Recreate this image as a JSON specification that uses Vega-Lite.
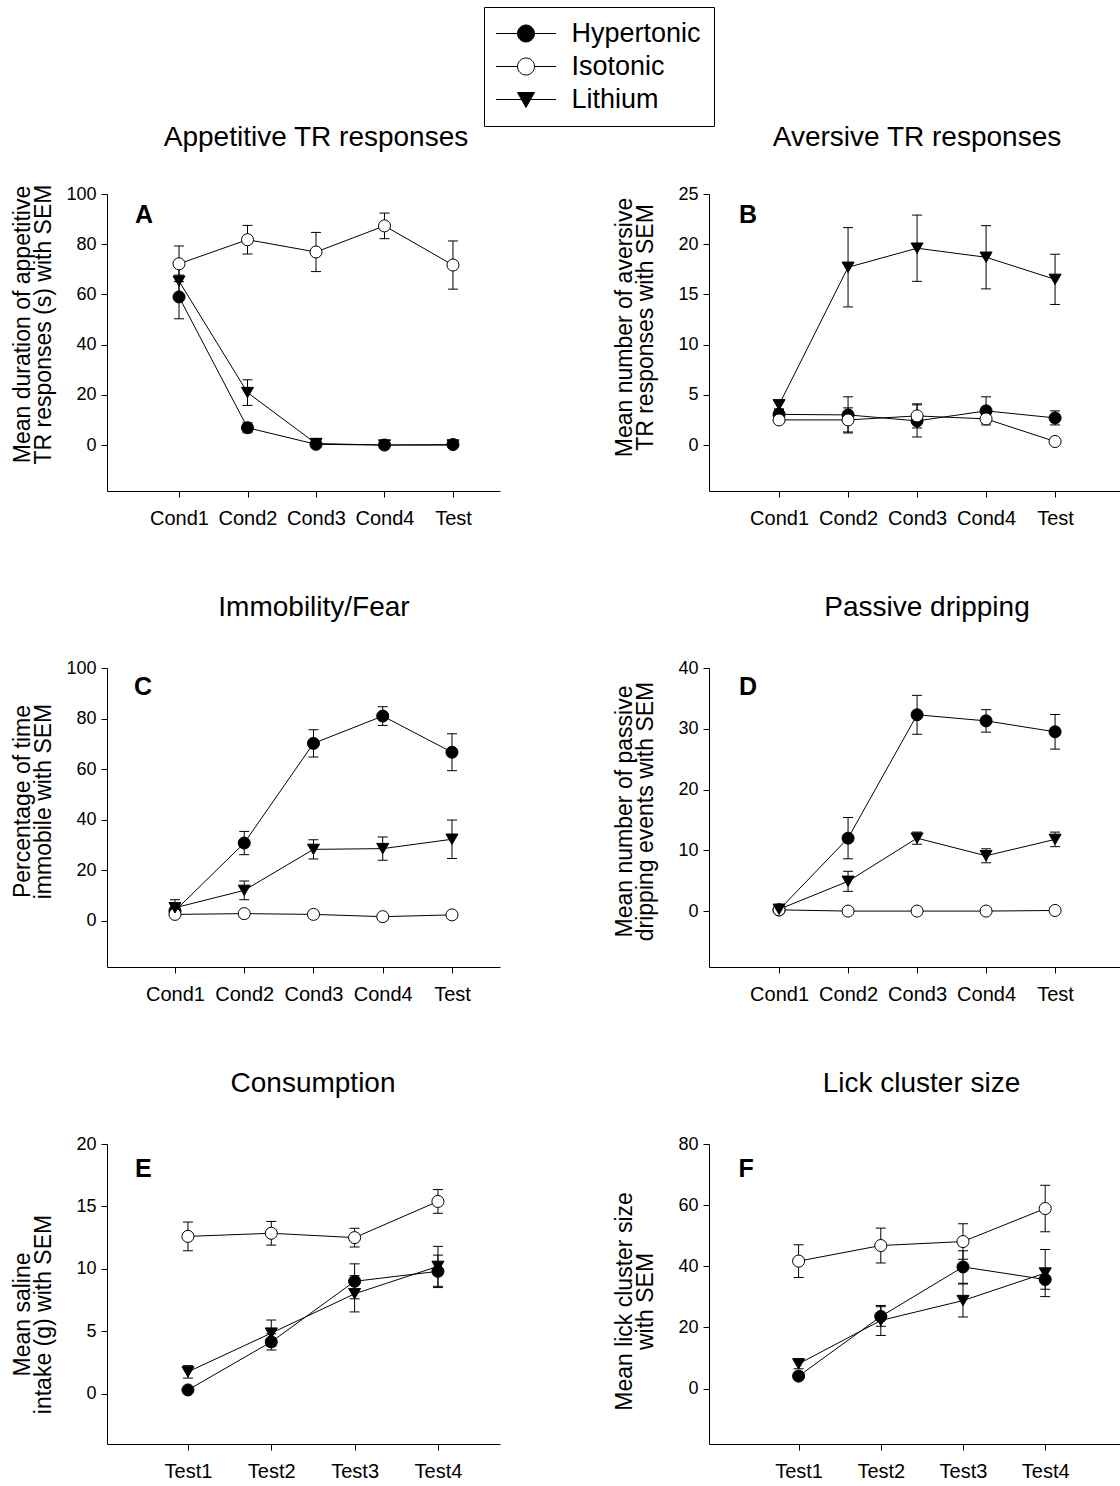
{
  "$schema": "https://vega.github.io/schema/vega-lite/v6.json",
  "padding": {"left": 10, "top": 6, "right": 0, "bottom": 0},
  "background": "white",
  "bounds": "flush",
  "columns": 2,
  "spacing": {"row": 177, "column": 209},
  "config": {
    "font": "Liberation Sans",
    "view": {"stroke": null},
    "axis": {"domainColor": "black", "tickColor": "black", "labelColor": "black", "titleColor": "black", "grid": false, "tickSize": 6, "domainWidth": 1, "tickWidth": 1, "labelFont": "Liberation Sans", "titleFont": "Liberation Sans", "titleFontWeight": "normal", "labelOverlap": false},
    "axisX": {"labelFontSize": 20, "labelPadding": 11, "labelAngle": 0},
    "axisY": {"labelFontSize": 18, "labelPadding": 5, "titleFontSize": 23, "titleLineHeight": 21, "titleBaseline": "alphabetic", "titleX": -78},
    "title": {"fontSize": 28, "fontWeight": "normal", "color": "black", "anchor": "middle", "frame": "group", "baseline": "alphabetic", "font": "Liberation Sans"}
  },
  "datasets": {
    "d": [
      {"panel": "A", "session": "Cond1", "group": "Hypertonic", "mean": 59.0, "sem": 8.7},
      {"panel": "A", "session": "Cond2", "group": "Hypertonic", "mean": 6.9, "sem": 2.0},
      {"panel": "A", "session": "Cond3", "group": "Hypertonic", "mean": 0.3, "sem": 0.4},
      {"panel": "A", "session": "Cond4", "group": "Hypertonic", "mean": 0.0, "sem": 0.3},
      {"panel": "A", "session": "Test", "group": "Hypertonic", "mean": 0.2, "sem": 0.4},
      {"panel": "A", "session": "Cond1", "group": "Isotonic", "mean": 72.2, "sem": 7.1},
      {"panel": "A", "session": "Cond2", "group": "Isotonic", "mean": 81.8, "sem": 5.7},
      {"panel": "A", "session": "Cond3", "group": "Isotonic", "mean": 76.9, "sem": 7.8},
      {"panel": "A", "session": "Cond4", "group": "Isotonic", "mean": 87.3, "sem": 5.1},
      {"panel": "A", "session": "Test", "group": "Isotonic", "mean": 71.7, "sem": 9.6},
      {"panel": "A", "session": "Cond1", "group": "Lithium", "mean": 65.3, "sem": 5.6},
      {"panel": "A", "session": "Cond2", "group": "Lithium", "mean": 20.9, "sem": 5.1},
      {"panel": "A", "session": "Cond3", "group": "Lithium", "mean": 0.6, "sem": 0.5},
      {"panel": "A", "session": "Cond4", "group": "Lithium", "mean": 0.0, "sem": 0.3},
      {"panel": "A", "session": "Test", "group": "Lithium", "mean": 0.0, "sem": 0.3},

      {"panel": "B", "session": "Cond1", "group": "Hypertonic", "mean": 3.05, "sem": 0.5},
      {"panel": "B", "session": "Cond2", "group": "Hypertonic", "mean": 3.0, "sem": 1.8},
      {"panel": "B", "session": "Cond3", "group": "Hypertonic", "mean": 2.4, "sem": 1.6},
      {"panel": "B", "session": "Cond4", "group": "Hypertonic", "mean": 3.4, "sem": 1.4},
      {"panel": "B", "session": "Test", "group": "Hypertonic", "mean": 2.7, "sem": 0.7},
      {"panel": "B", "session": "Cond1", "group": "Isotonic", "mean": 2.5, "sem": 0.3},
      {"panel": "B", "session": "Cond2", "group": "Isotonic", "mean": 2.5, "sem": 1.2},
      {"panel": "B", "session": "Cond3", "group": "Isotonic", "mean": 2.9, "sem": 1.2},
      {"panel": "B", "session": "Cond4", "group": "Isotonic", "mean": 2.6, "sem": 0.4},
      {"panel": "B", "session": "Test", "group": "Isotonic", "mean": 0.35, "sem": 0.2},
      {"panel": "B", "session": "Cond1", "group": "Lithium", "mean": 4.0, "sem": 0.4},
      {"panel": "B", "session": "Cond2", "group": "Lithium", "mean": 17.7, "sem": 3.95},
      {"panel": "B", "session": "Cond3", "group": "Lithium", "mean": 19.6, "sem": 3.3},
      {"panel": "B", "session": "Cond4", "group": "Lithium", "mean": 18.7, "sem": 3.15},
      {"panel": "B", "session": "Test", "group": "Lithium", "mean": 16.5, "sem": 2.5},

      {"panel": "C", "session": "Cond1", "group": "Hypertonic", "mean": 4.0, "sem": 1.0},
      {"panel": "C", "session": "Cond2", "group": "Hypertonic", "mean": 30.8, "sem": 4.6},
      {"panel": "C", "session": "Cond3", "group": "Hypertonic", "mean": 70.2, "sem": 5.4},
      {"panel": "C", "session": "Cond4", "group": "Hypertonic", "mean": 81.0, "sem": 3.7},
      {"panel": "C", "session": "Test", "group": "Hypertonic", "mean": 66.7, "sem": 7.3},
      {"panel": "C", "session": "Cond1", "group": "Isotonic", "mean": 2.6, "sem": 0.5},
      {"panel": "C", "session": "Cond2", "group": "Isotonic", "mean": 2.9, "sem": 0.4},
      {"panel": "C", "session": "Cond3", "group": "Isotonic", "mean": 2.6, "sem": 0.4},
      {"panel": "C", "session": "Cond4", "group": "Isotonic", "mean": 1.7, "sem": 0.4},
      {"panel": "C", "session": "Test", "group": "Isotonic", "mean": 2.4, "sem": 0.4},
      {"panel": "C", "session": "Cond1", "group": "Lithium", "mean": 5.2, "sem": 3.2},
      {"panel": "C", "session": "Cond2", "group": "Lithium", "mean": 12.1, "sem": 3.7},
      {"panel": "C", "session": "Cond3", "group": "Lithium", "mean": 28.3, "sem": 3.8},
      {"panel": "C", "session": "Cond4", "group": "Lithium", "mean": 28.6, "sem": 4.6},
      {"panel": "C", "session": "Test", "group": "Lithium", "mean": 32.3, "sem": 7.6},

      {"panel": "D", "session": "Cond1", "group": "Hypertonic", "mean": 0.2, "sem": 0.2},
      {"panel": "D", "session": "Cond2", "group": "Hypertonic", "mean": 12.0, "sem": 3.4},
      {"panel": "D", "session": "Cond3", "group": "Hypertonic", "mean": 32.3, "sem": 3.2},
      {"panel": "D", "session": "Cond4", "group": "Hypertonic", "mean": 31.3, "sem": 1.85},
      {"panel": "D", "session": "Test", "group": "Hypertonic", "mean": 29.5, "sem": 2.85},
      {"panel": "D", "session": "Cond1", "group": "Isotonic", "mean": 0.2, "sem": 0.1},
      {"panel": "D", "session": "Cond2", "group": "Isotonic", "mean": 0.0, "sem": 0.1},
      {"panel": "D", "session": "Cond3", "group": "Isotonic", "mean": 0.0, "sem": 0.1},
      {"panel": "D", "session": "Cond4", "group": "Isotonic", "mean": 0.0, "sem": 0.1},
      {"panel": "D", "session": "Test", "group": "Isotonic", "mean": 0.1, "sem": 0.1},
      {"panel": "D", "session": "Cond1", "group": "Lithium", "mean": 0.3, "sem": 0.3},
      {"panel": "D", "session": "Cond2", "group": "Lithium", "mean": 4.9, "sem": 1.65},
      {"panel": "D", "session": "Cond3", "group": "Lithium", "mean": 12.0, "sem": 1.0},
      {"panel": "D", "session": "Cond4", "group": "Lithium", "mean": 9.1, "sem": 1.15},
      {"panel": "D", "session": "Test", "group": "Lithium", "mean": 11.8, "sem": 1.2},

      {"panel": "E", "session": "Test1", "group": "Hypertonic", "mean": 0.3, "sem": 0.2},
      {"panel": "E", "session": "Test2", "group": "Hypertonic", "mean": 4.15, "sem": 0.65},
      {"panel": "E", "session": "Test3", "group": "Hypertonic", "mean": 9.0, "sem": 1.4},
      {"panel": "E", "session": "Test4", "group": "Hypertonic", "mean": 9.8, "sem": 1.3},
      {"panel": "E", "session": "Test1", "group": "Isotonic", "mean": 12.6, "sem": 1.15},
      {"panel": "E", "session": "Test2", "group": "Isotonic", "mean": 12.85, "sem": 0.95},
      {"panel": "E", "session": "Test3", "group": "Isotonic", "mean": 12.5, "sem": 0.75},
      {"panel": "E", "session": "Test4", "group": "Isotonic", "mean": 15.4, "sem": 0.95},
      {"panel": "E", "session": "Test1", "group": "Lithium", "mean": 1.75, "sem": 0.5},
      {"panel": "E", "session": "Test2", "group": "Lithium", "mean": 4.85, "sem": 1.05},
      {"panel": "E", "session": "Test3", "group": "Lithium", "mean": 8.0, "sem": 1.45},
      {"panel": "E", "session": "Test4", "group": "Lithium", "mean": 10.2, "sem": 1.6},

      {"panel": "F", "session": "Test1", "group": "Hypertonic", "mean": 4.1, "sem": 1.0},
      {"panel": "F", "session": "Test2", "group": "Hypertonic", "mean": 23.6, "sem": 3.2},
      {"panel": "F", "session": "Test3", "group": "Hypertonic", "mean": 39.8, "sem": 5.3},
      {"panel": "F", "session": "Test4", "group": "Hypertonic", "mean": 35.7, "sem": 3.2},
      {"panel": "F", "session": "Test1", "group": "Isotonic", "mean": 41.7, "sem": 5.35},
      {"panel": "F", "session": "Test2", "group": "Isotonic", "mean": 46.8, "sem": 5.7},
      {"panel": "F", "session": "Test3", "group": "Isotonic", "mean": 48.1, "sem": 5.8},
      {"panel": "F", "session": "Test4", "group": "Isotonic", "mean": 58.9, "sem": 7.6},
      {"panel": "F", "session": "Test1", "group": "Lithium", "mean": 8.1, "sem": 1.6},
      {"panel": "F", "session": "Test2", "group": "Lithium", "mean": 22.3, "sem": 4.9},
      {"panel": "F", "session": "Test3", "group": "Lithium", "mean": 28.8, "sem": 5.4},
      {"panel": "F", "session": "Test4", "group": "Lithium", "mean": 37.8, "sem": 7.7}
    ]
  },
  "concat": [
    {
      "width": 393, "height": 297,
      "title": {"text": "Appetitive TR responses", "dx": 12.5, "offset": -145.5},
      "data": {"name": "d"},
      "transform": [{"filter": {"field": "panel", "equal": "A"}}],
      "encoding": {
        "x": {"field": "session", "type": "nominal", "scale": {"type": "point", "domain": ["Cond1", "Cond2", "Cond3", "Cond4", "Test"], "padding": 0.869, "align": 0.605}, "axis": {"title": null}},
        "y": {"field": "mean", "type": "quantitative", "scale": {"domain": [-18.3, 100], "nice": false, "zero": false}, "axis": {"values": [0, 20, 40, 60, 80, 100], "title": ["Mean duration of appetitive", "TR responses (s) with SEM"], "titleY": 130}}
      },
      "resolve": {"scale": {"shape": "independent", "fill": "independent"}},
      "layer": [
        {"mark": {"type": "errorbar", "ticks": {"size": 10, "color": "black", "opacity": 1}, "rule": {"color": "black", "opacity": 1}, "thickness": 1}, "encoding": {"yError": {"field": "sem"}}},
        {"mark": {"type": "line", "color": "black", "strokeWidth": 1}, "encoding": {"detail": {"field": "group", "type": "nominal"}}},
        {"mark": {"type": "point", "filled": true, "stroke": "black", "strokeWidth": 1, "opacity": 1},
         "encoding": {
           "shape": {"field": "group", "type": "nominal", "scale": {"domain": ["Hypertonic", "Isotonic", "Lithium"], "range": ["circle", "circle", "triangle-down"]}, "legend": null},
           "fill": {"field": "group", "type": "nominal", "scale": {"domain": ["Hypertonic", "Isotonic", "Lithium"], "range": ["black", "white", "black"]}, "legend": null},
           "size": {"field": "group", "type": "nominal", "scale": {"domain": ["Hypertonic", "Isotonic", "Lithium"], "range": [145, 145, 215]}, "legend": null}
         }},
        {"transform": [{"filter": {"and": [{"field": "session", "equal": "Cond1"}, {"field": "group", "equal": "Hypertonic"}]}}],
         "mark": {"type": "text", "align": "left", "baseline": "alphabetic", "dx": -44, "fontSize": 25, "fontWeight": "bold", "color": "black"},
         "encoding": {"y": {"datum": 88.4}, "text": {"field": "panel", "type": "nominal"}}},
        {"data": {"values": []},
         "mark": {"type": "point", "filled": true, "stroke": "black", "strokeWidth": 1, "opacity": 1, "size": 4},
         "encoding": {
           "shape": {"field": "group", "type": "nominal", "scale": {"domain": ["Hypertonic", "Isotonic", "Lithium"], "range": ["M-30,0H-8.5M8.5,0H30M-8.5,0A8.5,8.5,0,1,1,8.5,0A8.5,8.5,0,1,1,-8.5,0Z", "M-30,0H-8.5M8.5,0H30M-8.5,0A8.5,8.5,0,1,1,8.5,0A8.5,8.5,0,1,1,-8.5,0Z", "M-30,0H-4.5M4.5,0H30M-8.5,-7L8.5,-7L0,8Z"]},
             "legend": {"orient": "none", "legendX": 377, "legendY": -187, "title": null, "direction": "vertical", "padding": 13, "strokeColor": "black", "fillColor": "white", "cornerRadius": 0, "labelFont": "Liberation Sans", "labelFontSize": 27, "labelColor": "black", "labelOffset": 32, "symbolOffset": 15.5, "rowPadding": 5, "symbolSize": 4, "symbolStrokeColor": "black", "symbolStrokeWidth": 1, "symbolOpacity": 1, "labelLimit": 300,
               "encode": {"symbols": {"update": {"stroke": {"value": "black"}, "strokeWidth": {"value": 1}, "opacity": {"value": 1}}}}}},
           "fill": {"field": "group", "type": "nominal", "scale": {"domain": ["Hypertonic", "Isotonic", "Lithium"], "range": ["black", "white", "black"]},
             "legend": {"orient": "none", "legendX": 377, "legendY": -187, "title": null, "direction": "vertical", "padding": 13, "strokeColor": "black", "fillColor": "white", "cornerRadius": 0, "labelFont": "Liberation Sans", "labelFontSize": 27, "labelColor": "black", "labelOffset": 32, "symbolOffset": 15.5, "rowPadding": 5, "symbolSize": 4, "symbolStrokeColor": "black", "symbolStrokeWidth": 1, "symbolOpacity": 1, "labelLimit": 300,
               "encode": {"symbols": {"update": {"stroke": {"value": "black"}, "strokeWidth": {"value": 1}, "opacity": {"value": 1}}}}}}
         }}
      ]
    },
    {
      "width": 411, "height": 297,
      "title": {"text": "Aversive TR responses", "dx": 2.5, "offset": 33},
      "data": {"name": "d"},
      "transform": [{"filter": {"field": "panel", "equal": "B"}}],
      "encoding": {
        "x": {"field": "session", "type": "nominal", "scale": {"type": "point", "domain": ["Cond1", "Cond2", "Cond3", "Cond4", "Test"], "padding": 0.978, "align": 0.519}, "axis": {"title": null}},
        "y": {"field": "mean", "type": "quantitative", "scale": {"domain": [-4.58, 25], "nice": false, "zero": false}, "axis": {"values": [0, 5, 10, 15, 20, 25], "title": ["Mean number of aversive", "TR responses with SEM"], "titleY": 133}}
      },
      "layer": [
        {"mark": {"type": "errorbar", "ticks": {"size": 10, "color": "black", "opacity": 1}, "rule": {"color": "black", "opacity": 1}, "thickness": 1}, "encoding": {"yError": {"field": "sem"}}},
        {"mark": {"type": "line", "color": "black", "strokeWidth": 1}, "encoding": {"detail": {"field": "group", "type": "nominal"}}},
        {"mark": {"type": "point", "filled": true, "stroke": "black", "strokeWidth": 1, "opacity": 1},
         "encoding": {
           "shape": {"field": "group", "type": "nominal", "scale": {"domain": ["Hypertonic", "Isotonic", "Lithium"], "range": ["circle", "circle", "triangle-down"]}, "legend": null},
           "fill": {"field": "group", "type": "nominal", "scale": {"domain": ["Hypertonic", "Isotonic", "Lithium"], "range": ["black", "white", "black"]}, "legend": null},
           "size": {"field": "group", "type": "nominal", "scale": {"domain": ["Hypertonic", "Isotonic", "Lithium"], "range": [145, 145, 215]}, "legend": null}
         }},
        {"transform": [{"filter": {"and": [{"field": "session", "equal": "Cond1"}, {"field": "group", "equal": "Hypertonic"}]}}],
         "mark": {"type": "text", "align": "left", "baseline": "alphabetic", "dx": -40, "fontSize": 25, "fontWeight": "bold", "color": "black"},
         "encoding": {"y": {"datum": 22.1}, "text": {"field": "panel", "type": "nominal"}}}
      ]
    },
    {
      "width": 393, "height": 299,
      "title": {"text": "Immobility/Fear", "dx": 10.5, "offset": 37},
      "data": {"name": "d"},
      "transform": [{"filter": {"field": "panel", "equal": "C"}}],
      "encoding": {
        "x": {"field": "session", "type": "nominal", "scale": {"type": "point", "domain": ["Cond1", "Cond2", "Cond3", "Cond4", "Test"], "padding": 0.8375, "align": 0.586}, "axis": {"title": null}},
        "y": {"field": "mean", "type": "quantitative", "scale": {"domain": [-18.2, 100], "nice": false, "zero": false}, "axis": {"values": [0, 20, 40, 60, 80, 100], "title": ["Percentage of time", "immobile with SEM"], "titleY": 133}}
      },
      "layer": [
        {"mark": {"type": "errorbar", "ticks": {"size": 10, "color": "black", "opacity": 1}, "rule": {"color": "black", "opacity": 1}, "thickness": 1}, "encoding": {"yError": {"field": "sem"}}},
        {"mark": {"type": "line", "color": "black", "strokeWidth": 1}, "encoding": {"detail": {"field": "group", "type": "nominal"}}},
        {"mark": {"type": "point", "filled": true, "stroke": "black", "strokeWidth": 1, "opacity": 1},
         "encoding": {
           "shape": {"field": "group", "type": "nominal", "scale": {"domain": ["Hypertonic", "Isotonic", "Lithium"], "range": ["circle", "circle", "triangle-down"]}, "legend": null},
           "fill": {"field": "group", "type": "nominal", "scale": {"domain": ["Hypertonic", "Isotonic", "Lithium"], "range": ["black", "white", "black"]}, "legend": null},
           "size": {"field": "group", "type": "nominal", "scale": {"domain": ["Hypertonic", "Isotonic", "Lithium"], "range": [145, 145, 215]}, "legend": null}
         }},
        {"transform": [{"filter": {"and": [{"field": "session", "equal": "Cond1"}, {"field": "group", "equal": "Hypertonic"}]}}],
         "mark": {"type": "text", "align": "left", "baseline": "alphabetic", "dx": -41, "fontSize": 25, "fontWeight": "bold", "color": "black"},
         "encoding": {"y": {"datum": 89.3}, "text": {"field": "panel", "type": "nominal"}}}
      ]
    },
    {
      "width": 411, "height": 299,
      "title": {"text": "Passive dripping", "dx": 12.5, "offset": 37},
      "data": {"name": "d"},
      "transform": [{"filter": {"field": "panel", "equal": "D"}}],
      "encoding": {
        "x": {"field": "session", "type": "nominal", "scale": {"type": "point", "domain": ["Cond1", "Cond2", "Cond3", "Cond4", "Test"], "padding": 0.978, "align": 0.519}, "axis": {"title": null}},
        "y": {"field": "mean", "type": "quantitative", "scale": {"domain": [-9.2, 40], "nice": false, "zero": false}, "axis": {"values": [0, 10, 20, 30, 40], "title": ["Mean number of passive", "dripping events with SEM"], "titleY": 143}}
      },
      "layer": [
        {"mark": {"type": "errorbar", "ticks": {"size": 10, "color": "black", "opacity": 1}, "rule": {"color": "black", "opacity": 1}, "thickness": 1}, "encoding": {"yError": {"field": "sem"}}},
        {"mark": {"type": "line", "color": "black", "strokeWidth": 1}, "encoding": {"detail": {"field": "group", "type": "nominal"}}},
        {"mark": {"type": "point", "filled": true, "stroke": "black", "strokeWidth": 1, "opacity": 1},
         "encoding": {
           "shape": {"field": "group", "type": "nominal", "scale": {"domain": ["Hypertonic", "Isotonic", "Lithium"], "range": ["circle", "circle", "triangle-down"]}, "legend": null},
           "fill": {"field": "group", "type": "nominal", "scale": {"domain": ["Hypertonic", "Isotonic", "Lithium"], "range": ["black", "white", "black"]}, "legend": null},
           "size": {"field": "group", "type": "nominal", "scale": {"domain": ["Hypertonic", "Isotonic", "Lithium"], "range": [145, 145, 215]}, "legend": null}
         }},
        {"transform": [{"filter": {"and": [{"field": "session", "equal": "Cond1"}, {"field": "group", "equal": "Hypertonic"}]}}],
         "mark": {"type": "text", "align": "left", "baseline": "alphabetic", "dx": -40, "fontSize": 25, "fontWeight": "bold", "color": "black"},
         "encoding": {"y": {"datum": 35.6}, "text": {"field": "panel", "type": "nominal"}}}
      ]
    },
    {
      "width": 393, "height": 300,
      "title": {"text": "Consumption", "dx": 9.5, "offset": 37},
      "data": {"name": "d"},
      "transform": [{"filter": {"field": "panel", "equal": "E"}}],
      "encoding": {
        "x": {"field": "session", "type": "nominal", "scale": {"type": "point", "domain": ["Test1", "Test2", "Test3", "Test4"], "padding": 0.858, "align": 0.566}, "axis": {"title": null}},
        "y": {"field": "mean", "type": "quantitative", "scale": {"domain": [-4.03, 20], "nice": false, "zero": false}, "axis": {"values": [0, 5, 10, 15, 20], "title": ["Mean saline", "intake (g) with SEM"], "titleY": 170}}
      },
      "layer": [
        {"mark": {"type": "errorbar", "ticks": {"size": 10, "color": "black", "opacity": 1}, "rule": {"color": "black", "opacity": 1}, "thickness": 1}, "encoding": {"yError": {"field": "sem"}}},
        {"mark": {"type": "line", "color": "black", "strokeWidth": 1}, "encoding": {"detail": {"field": "group", "type": "nominal"}}},
        {"mark": {"type": "point", "filled": true, "stroke": "black", "strokeWidth": 1, "opacity": 1},
         "encoding": {
           "shape": {"field": "group", "type": "nominal", "scale": {"domain": ["Hypertonic", "Isotonic", "Lithium"], "range": ["circle", "circle", "triangle-down"]}, "legend": null},
           "fill": {"field": "group", "type": "nominal", "scale": {"domain": ["Hypertonic", "Isotonic", "Lithium"], "range": ["black", "white", "black"]}, "legend": null},
           "size": {"field": "group", "type": "nominal", "scale": {"domain": ["Hypertonic", "Isotonic", "Lithium"], "range": [145, 145, 215]}, "legend": null}
         }},
        {"transform": [{"filter": {"and": [{"field": "session", "equal": "Test1"}, {"field": "group", "equal": "Hypertonic"}]}}],
         "mark": {"type": "text", "align": "left", "baseline": "alphabetic", "dx": -53, "fontSize": 25, "fontWeight": "bold", "color": "black"},
         "encoding": {"y": {"datum": 17.35}, "text": {"field": "panel", "type": "nominal"}}}
      ]
    },
    {
      "width": 411, "height": 300,
      "title": {"text": "Lick cluster size", "dx": 7, "offset": 37},
      "data": {"name": "d"},
      "transform": [{"filter": {"field": "panel", "equal": "F"}}],
      "encoding": {
        "x": {"field": "session", "type": "nominal", "scale": {"type": "point", "domain": ["Test1", "Test2", "Test3", "Test4"], "padding": 1.006, "align": 0.545}, "axis": {"title": null}},
        "y": {"field": "mean", "type": "quantitative", "scale": {"domain": [-18.1, 80], "nice": false, "zero": false}, "axis": {"values": [0, 20, 40, 60, 80], "title": ["Mean lick cluster size", "with SEM"], "titleY": 157}}
      },
      "layer": [
        {"mark": {"type": "errorbar", "ticks": {"size": 10, "color": "black", "opacity": 1}, "rule": {"color": "black", "opacity": 1}, "thickness": 1}, "encoding": {"yError": {"field": "sem"}}},
        {"mark": {"type": "line", "color": "black", "strokeWidth": 1}, "encoding": {"detail": {"field": "group", "type": "nominal"}}},
        {"mark": {"type": "point", "filled": true, "stroke": "black", "strokeWidth": 1, "opacity": 1},
         "encoding": {
           "shape": {"field": "group", "type": "nominal", "scale": {"domain": ["Hypertonic", "Isotonic", "Lithium"], "range": ["circle", "circle", "triangle-down"]}, "legend": null},
           "fill": {"field": "group", "type": "nominal", "scale": {"domain": ["Hypertonic", "Isotonic", "Lithium"], "range": ["black", "white", "black"]}, "legend": null},
           "size": {"field": "group", "type": "nominal", "scale": {"domain": ["Hypertonic", "Isotonic", "Lithium"], "range": [145, 145, 215]}, "legend": null}
         }},
        {"transform": [{"filter": {"and": [{"field": "session", "equal": "Test1"}, {"field": "group", "equal": "Hypertonic"}]}}],
         "mark": {"type": "text", "align": "left", "baseline": "alphabetic", "dx": -60, "fontSize": 25, "fontWeight": "bold", "color": "black"},
         "encoding": {"y": {"datum": 69.2}, "text": {"field": "panel", "type": "nominal"}}}
      ]
    }
  ]
}
